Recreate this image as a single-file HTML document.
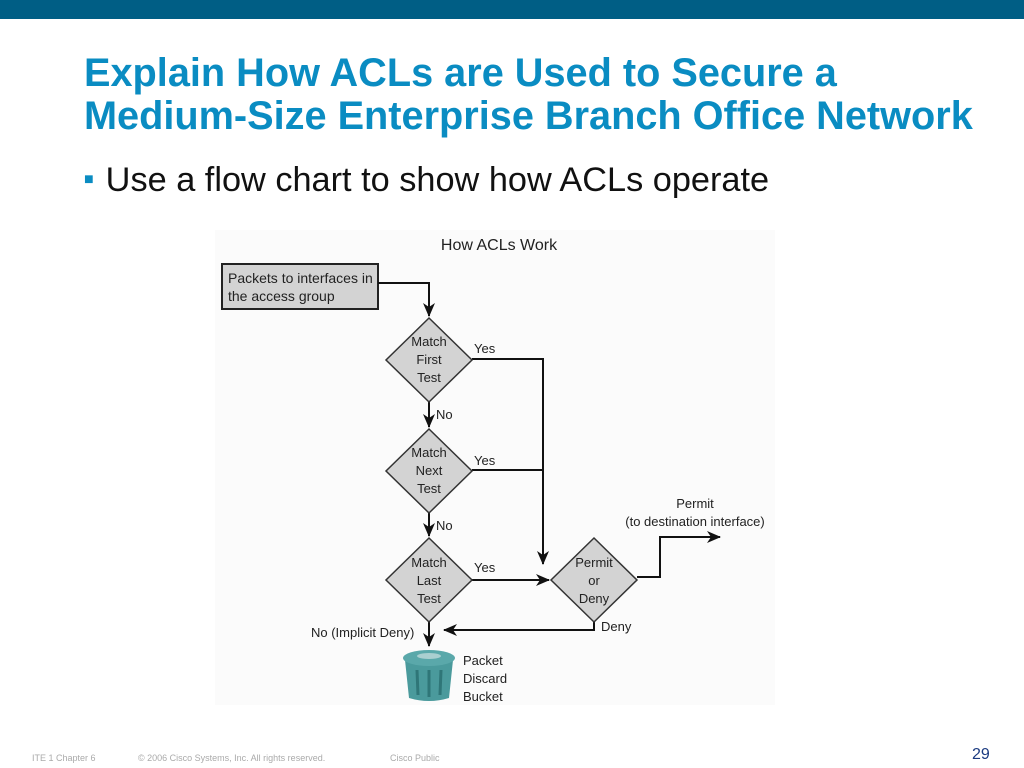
<!DOCTYPE html>
<html><head><meta charset="utf-8"><style>
body{margin:0;width:1024px;height:768px;background:#fff;position:relative;overflow:hidden;font-family:"Liberation Sans",sans-serif}
.bar{position:absolute;left:0;top:0;width:1024px;height:19px;background:#005e85}
.t{position:absolute;left:84px;top:52px;color:#0a8cc2;font-weight:bold;font-size:39.7px;line-height:43px;white-space:nowrap}
.b{position:absolute;left:84px;top:161px;font-size:34.3px;color:#111;white-space:nowrap}
.b span{color:#0a8cc2;font-size:16px;position:relative;top:-7px;margin-right:12px}
.f{position:absolute;top:753px;font-size:9px;color:#aaa}
</style></head><body>
<div class="bar"></div>
<div class="t">Explain How ACLs are Used to Secure a<br>Medium-Size Enterprise Branch Office Network</div>
<div class="b"><span>■</span>Use a flow chart to show how ACLs operate</div>
<svg width="1024" height="768" style="position:absolute;left:0;top:0" font-family="Liberation Sans, sans-serif" font-size="13" fill="#222">
<defs><marker id="a" markerWidth="14" markerHeight="12" refX="13" refY="6" orient="auto" markerUnits="userSpaceOnUse"><path d="M0,0 L14,6 L0,12 L4,6z" fill="#111"/></marker></defs>
<rect x="215" y="230" width="560" height="475" fill="#fbfbfb"/>
<text x="499" y="250" text-anchor="middle" font-size="16">How ACLs Work</text>
<rect x="222" y="264" width="156" height="45" fill="#d3d3d3" stroke="#222" stroke-width="2"/>
<text x="228" y="283" font-size="14">Packets to interfaces in</text>
<text x="228" y="301" font-size="14">the access group</text>
<g stroke="#111" stroke-width="2" fill="none">
<path d="M378,283 H429 V316" marker-end="url(#a)"/>
<path d="M429,402 V427" marker-end="url(#a)"/>
<path d="M429,513 V536" marker-end="url(#a)"/>
<path d="M429,622 V646" marker-end="url(#a)"/>
<path d="M472,359 H543 V564" marker-end="url(#a)"/>
<path d="M472,470 H543"/>
<path d="M472,580 H549" marker-end="url(#a)"/>
<path d="M637,577 H660 V537 H720" marker-end="url(#a)"/>
<path d="M594,622 V630 H444" marker-end="url(#a)"/>
</g>
<g fill="#d3d3d3" stroke="#333" stroke-width="1.5">
<path d="M429,318 L472,360 L429,402 L386,360z"/>
<path d="M429,429 L472,471 L429,513 L386,471z"/>
<path d="M429,538 L472,580 L429,622 L386,580z"/>
<path d="M594,538 L637,580 L594,622 L551,580z"/>
</g>
<g text-anchor="middle">
<text x="429" y="346">Match</text><text x="429" y="364">First</text><text x="429" y="382">Test</text>
<text x="429" y="457">Match</text><text x="429" y="475">Next</text><text x="429" y="493">Test</text>
<text x="429" y="567">Match</text><text x="429" y="585">Last</text><text x="429" y="603">Test</text>
<text x="594" y="567">Permit</text><text x="594" y="585">or</text><text x="594" y="603">Deny</text>
<text x="695" y="508">Permit</text><text x="695" y="526">(to destination interface)</text>
</g>
<text x="474" y="353">Yes</text><text x="474" y="465">Yes</text><text x="474" y="572">Yes</text>
<text x="436" y="419">No</text><text x="436" y="530">No</text>
<text x="601" y="631">Deny</text>
<text x="311" y="637">No (Implicit Deny)</text>
<text x="463" y="665">Packet</text><text x="463" y="683">Discard</text><text x="463" y="701">Bucket</text>
<path d="M405,660 L453,660 L449,698 Q429,704 409,698z" fill="#4a9a9c"/>
<ellipse cx="429" cy="658" rx="26" ry="8" fill="#5aa8aa"/>
<ellipse cx="429" cy="656" rx="12" ry="3" fill="#aacfd0"/>
<g stroke="#2f7678" stroke-width="3"><line x1="417" y1="670" x2="418" y2="695"/><line x1="429" y1="670" x2="429" y2="697"/><line x1="441" y1="670" x2="440" y2="695"/></g>
</svg>
<div class="f" style="left:32px">ITE 1 Chapter 6</div>
<div class="f" style="left:138px">© 2006 Cisco Systems, Inc. All rights reserved.</div>
<div class="f" style="left:390px">Cisco Public</div>
<div style="position:absolute;left:972px;top:746px;font-size:16px;color:#1a3a80">29</div>
</body></html>
